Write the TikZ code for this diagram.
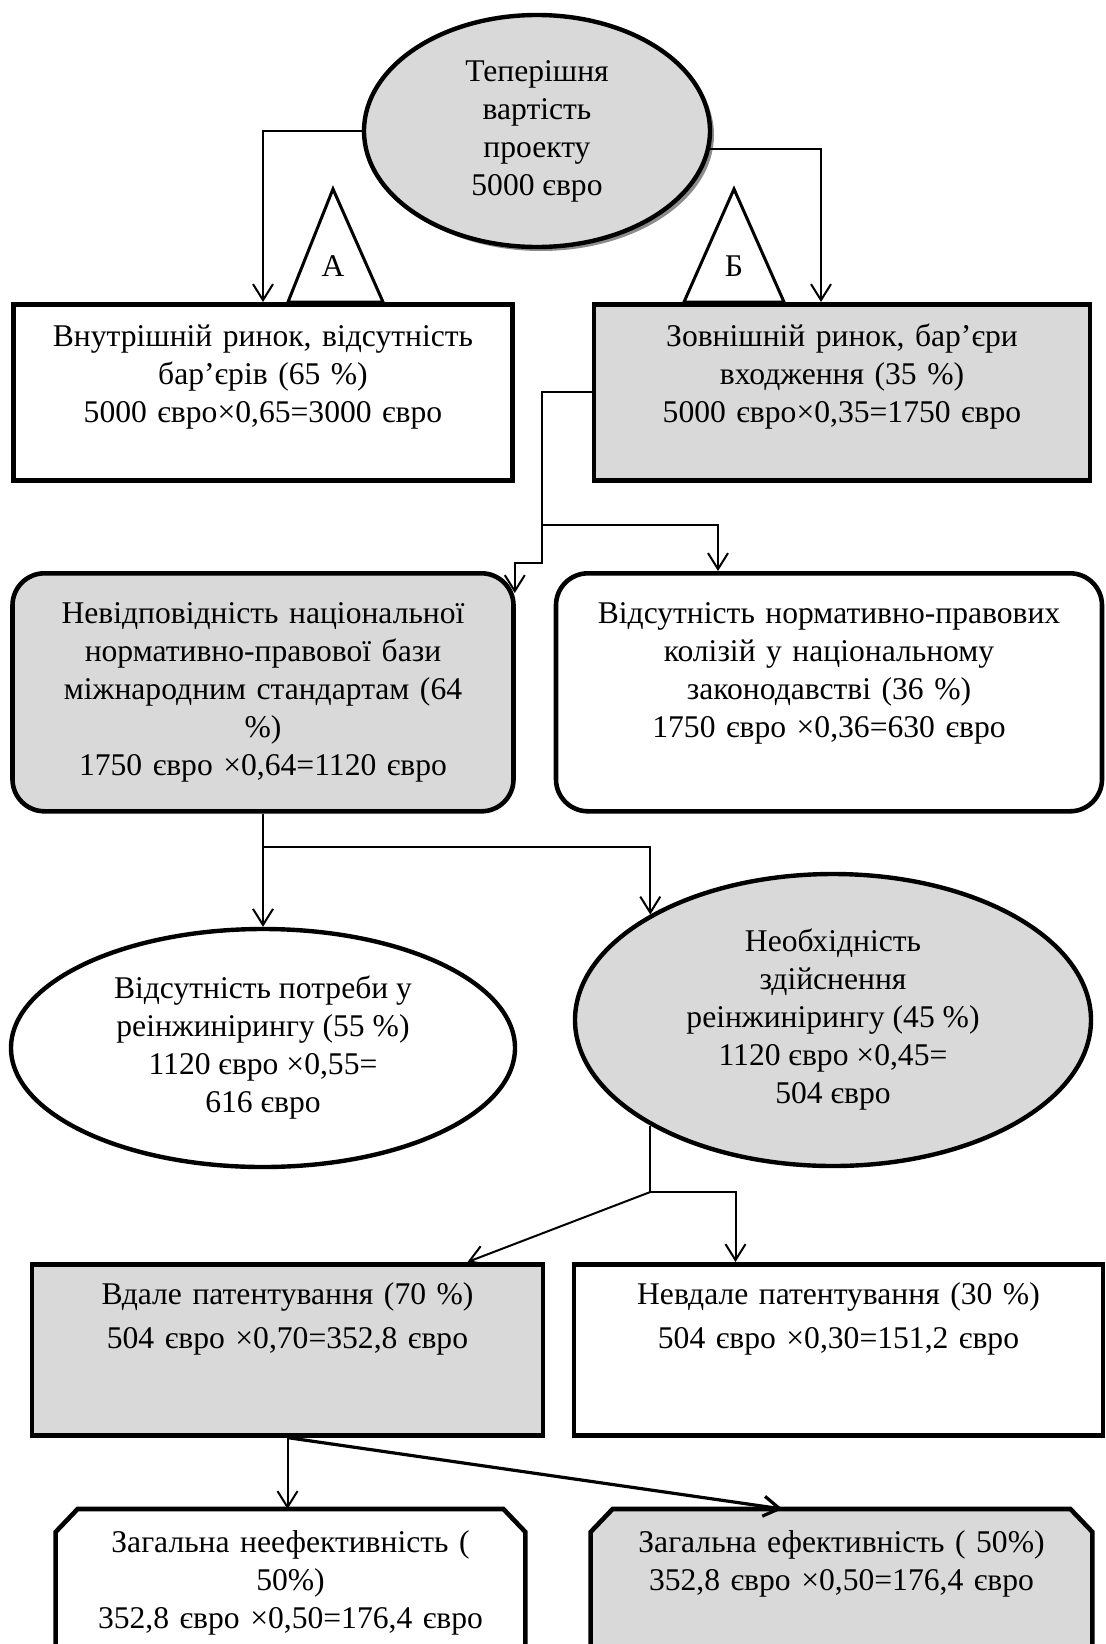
\documentclass[tikz,border=0pt]{standalone}
\usepackage{fontspec}
\setmainfont{Liberation Serif}
\usepackage{tikz}
\usetikzlibrary{arrows.meta,positioning,shapes.geometric,shadows,backgrounds,calc}

\begin{document}
\begin{tikzpicture}[x=0.5pt, y=-0.5pt,
  every node/.style={font=\fontsize{15.8}{19}\selectfont},
  tag/.style={anchor=north, align=center, inner xsep=4pt, inner ysep=0pt},
  box/.style={tag, draw, line width=2.3pt},
  soft/.style={box, rounded corners=16pt},
  edge/.style={line width=2.3pt},
  oval/.style={draw, ellipse, line width=2.2pt, inner sep=0pt, align=center},
  grey/.style={fill=black!15},
  link/.style={line width=1pt},
  arr/.style={link, -{Straight Barb[length=8pt, width=10pt]}},
  tri/.style={draw, line width=1.5pt}
]
  \useasboundingbox (0,0) rectangle (1105,1644);

  \node[oval, grey, minimum width=173pt, minimum height=116pt,
        drop shadow={shadow xshift=2pt, shadow yshift=-2pt, fill=black!45, opacity=1}]
    (pv) at (537,131) {Теперішня\\ вартість\\ проекту\\ 5000 євро};

  \node[box, text width=241.5pt, text height=21pt, text depth=67pt] (dom) at (263,302)
    {Внутрішній ринок, відсутність\\ бар’єрів (65 \%)\\ 5000 євро×0,65=3000 євро};
  \node[box, grey, text width=240pt, text height=21pt, text depth=67pt] (ext) at (842,302)
    {Зовнішній ринок, бар’єри\\ входження (35 \%)\\ 5000 євро×0,35=1750 євро};

  \draw[tri] (288,302) -- (333,189) -- (383,302) -- cycle;
  \node (labA) at (333,266) {А};
  \draw[tri] (684,302) -- (734,189) -- (784,302) -- cycle;
  \node (labB) at (734,266) {Б};

  \node[soft, grey, text width=242.5pt, text height=25pt, text depth=94pt] (mism) at (263,571)
    {Невідповідність національної\\ нормативно-правової бази\\ міжнародним стандартам (64\\ \%)\\ 1750 євро ×0,64=1120 євро};
  \node[soft, text width=265pt, text height=25pt, text depth=94pt] (nocol) at (829,571)
    {Відсутність нормативно-правових\\ колізій у національному\\ законодавстві (36 \%)\\ 1750 євро ×0,36=630 євро};

  \node[oval, minimum width=252pt, minimum height=119pt] (noreeng) at (263,1048)
    {Відсутність потреби у\\ реінжинірингу (55 \%)\\ 1120 євро ×0,55=\\ 616 євро};
  \node[oval, grey, minimum width=258pt, minimum height=146pt] (reeng) at (833,1020)
    {Необхідність\\ здійснення\\ реінжинірингу (45 \%)\\ 1120 євро ×0,45=\\ 504 євро};

  \node[box, grey, text width=247.5pt, text height=20pt, text depth=65.5pt] (okpat) at (287.5,1262)
    {Вдале патентування (70 \%)\\[3pt] 504 євро ×0,70=352,8 євро};
  \node[box, text width=256.5pt, text height=20pt, text depth=65.5pt] (failpat) at (838.5,1262)
    {Невдале патентування (30 \%)\\[3pt] 504 євро ×0,30=151,2 євро};

  \node[tag, text width=226.5pt, text height=21.5pt, text depth=46pt] (ineff) at (290.5,1509)
    {Загальна неефективність (\\ 50\%)\\ 352,8 євро ×0,50=176,4 євро};
  \node[tag, text width=242.5pt, text height=21.5pt, text depth=46pt] (eff) at (841.5,1509)
    {Загальна ефективність ( 50\%)\\ 352,8 євро ×0,50=176,4 євро};
  \begin{scope}[on background layer]
    \draw[edge] (ineff.south west) -- ([yshift=-11.5pt]ineff.north west) -- ([xshift=11pt]ineff.north west)
      -- ([xshift=-11pt]ineff.north east) -- ([yshift=-11.5pt]ineff.north east) -- (ineff.south east);
    \draw[edge, grey] (eff.south west) -- ([yshift=-11.5pt]eff.north west) -- ([xshift=11pt]eff.north west)
      -- ([xshift=-11pt]eff.north east) -- ([yshift=-11.5pt]eff.north east) -- (eff.south east);
  \end{scope}

  \draw[arr] (pv.west) -| (dom.north);
  \draw[arr] (pv.-6.5) -| ([xshift=-10.5pt]ext.north);

  \coordinate (fork1) at (542,525);
  \draw[link] (ext.west) -| (fork1);
  \draw[arr] (fork1) -| ([xshift=-55.5pt]nocol.north);
  \draw[arr] (fork1) -- ++(0,38) -| ([xshift=-0.5pt, yshift=-11pt]mism.north east);

  \coordinate (fork2) at (mism.south |- 0,847);
  \draw[arr] (mism.south) -- (noreeng.north);
  \draw[arr] (fork2) -| (reeng.150);

  \coordinate (fork3) at (reeng.210 |- 0,1192);
  \draw[link] (reeng.210) -- (fork3);
  \draw[arr] (fork3) -| ([xshift=-51.5pt]failpat.north);
  \draw[arr] (fork3) -- ([xshift=90pt]okpat.north);

  \draw[arr] (okpat.south) -- (okpat.south |- ineff.north);
  \draw[arr, line width=1.6pt] (okpat.south) -- ([xshift=-29.5pt]eff.north);
\end{tikzpicture}
\end{document}
